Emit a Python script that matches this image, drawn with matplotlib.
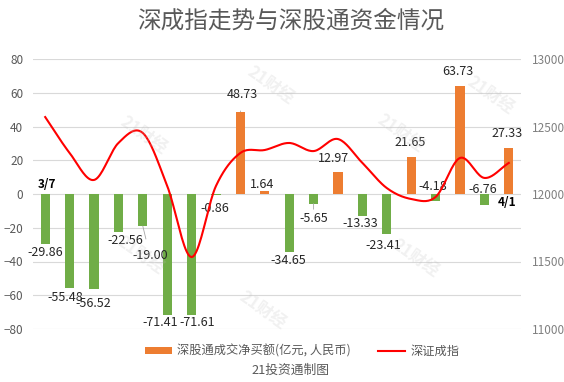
import numpy as np
import matplotlib
matplotlib.use("Agg")
import matplotlib.pyplot as plt
from matplotlib.patches import Patch
from matplotlib.lines import Line2D

plt.rcParams['font.family'] = ['Noto Sans CJK SC', 'DejaVu Sans']

# ---- data ----
flows = [-29.86, -55.48, -56.52, -22.56, -19.00, -71.41, -71.61, -0.86, 48.73, 1.64,
         -34.65, -5.65, 12.97, -13.33, -23.41, 21.65, -4.18, 63.73, -6.76, 27.33]
szci = [12570, 12304, 12104, 12378, 12452, 12060, 11533, 12060, 12304, 12326,
        12378, 12318, 12407, 12230, 12044, 11963, 11978, 12267, 12119, 12230]
first_date, last_date = "3/7", "4/1"
left_ticks = [-80, -60, -40, -20, 0, 20, 40, 60, 80]
right_ticks = [11000, 11500, 12000, 12500, 13000]

# label offsets in pixels (dx, dy up) and which ones get a leader line
LABEL_OFF = [(0, -8), (-4, -10), (-1, -14), (7, -8), (7, -29), (-7, -8), (6, -8), (-1, -13),
             (2, 17), (-3, 7), (-1, -8), (0, -15), (-5, 14), (-2, -7), (-4, -12), (-1, 14.5),
             (-3, 15), (-2, 14.5), (-2, 15.5), (-2, 14)]
LEADER = {4, 8, 11}

GREEN, ORANGE, RED, GRAY = "#70AD47", "#ED7D31", "#FF0000", "#595959"


def catmull_rom(x, y, n=20):
    # smooth curve through every point (same kind of smoothing as an office "smooth line")
    x = np.asarray(x, float); y = np.asarray(y, float)
    px = np.concatenate([[2 * x[0] - x[1]], x, [2 * x[-1] - x[-2]]])
    py = np.concatenate([[2 * y[0] - y[1]], y, [2 * y[-1] - y[-2]]])
    xs, ys = [], []
    t = np.linspace(0, 1, n, endpoint=False)
    for i in range(1, len(px) - 2):
        for p, out in ((px, xs), (py, ys)):
            p0, p1, p2, p3 = p[i - 1], p[i], p[i + 1], p[i + 2]
            out.append(0.5 * (2 * p1 + (-p0 + p2) * t + (2 * p0 - 5 * p1 + 4 * p2 - p3) * t ** 2
                              + (-p0 + 3 * p1 - 3 * p2 + p3) * t ** 3))
    xs.append([x[-1]]); ys.append([y[-1]])
    return np.concatenate(xs), np.concatenate(ys)


fig = plt.figure(figsize=(5.64, 3.82), dpi=100)
ax = fig.add_axes([33 / 564, 1 - 329 / 382, 488 / 564, 270 / 382])
ax2 = ax.twinx()

x = np.arange(len(flows))
cols = [ORANGE if v > 0 else GREEN for v in flows]
ax.bar(x, flows, width=0.38, color=cols, zorder=2)
ax.set_xlim(-0.5, len(flows) - 0.5)
ax.set_ylim(-80, 80)
ax.set_yticks(left_ticks)
ax.grid(axis='y', color="#D9D9D9", lw=0.8, zorder=0)
ax.set_axisbelow(True)
ax.set_xticks([])
for s in ax.spines.values():
    s.set_visible(False)
ax.tick_params(axis='y', length=0, pad=7, labelsize=8.5, labelcolor=GRAY)

sx, sy = catmull_rom(x, szci)
ax2.plot(sx, sy, color=RED, lw=1.5, zorder=3)
ax2.set_ylim(11000, 13000)
ax2.set_yticks(right_ticks)
for s in ax2.spines.values():
    s.set_visible(False)
ax2.tick_params(axis='y', length=0, pad=8, labelsize=8.5, labelcolor="#808080")

# value labels
for i, v in enumerate(flows):
    dx, dy = LABEL_OFF[i]
    kw = {}
    if i in LEADER:
        kw['arrowprops'] = dict(arrowstyle='-', color="#A6A6A6", lw=0.6, shrinkA=5, shrinkB=0)
    ax.annotate(f"{v:.2f}", xy=(i, v), xytext=(dx, dy), textcoords='offset pixels',
                ha='center', va='center', fontsize=9, color="#262626", zorder=5, **kw)

ax.annotate(first_date, xy=(0, 0), xytext=(2, 10), textcoords='offset pixels',
            ha='center', va='center', fontsize=8.5, fontweight='bold', color="black")
ax.annotate(last_date, xy=(len(flows) - 1, 0), xytext=(-2, -9), textcoords='offset pixels',
            ha='center', va='center', fontsize=8.5, fontweight='bold', color="black")

# faint watermarks
for wx, wy in [(143, 135), (270, 85), (400, 133), (490, 95), (140, 255), (262, 310), (415, 258)]:
    fig.text(wx / 564, 1 - wy / 382, "21财经", rotation=-35, ha='center', va='center',
             fontsize=12, fontweight='bold', color="#BFBFBF", alpha=0.22, zorder=0)

fig.text(291 / 564, 1 - 21 / 382, "深成指走势与深股通资金情况", ha='center', va='center',
         fontsize=17, color=GRAY)

handles = [Patch(facecolor=ORANGE, edgecolor='none'), Line2D([], [], color=RED, lw=1.5)]
fig.legend(handles, ["深股通成交净买额(亿元, 人民币)", "深证成指"], loc='center',
           bbox_to_anchor=(302 / 564, 1 - 351 / 382), ncol=2, frameon=False, fontsize=8.8,
           handlelength=2.2, handleheight=0.5, handletextpad=0.4, columnspacing=2.3,
           labelcolor=GRAY)
fig.text(290 / 564, 1 - 370 / 382, "21投资通制图", ha='center', va='center',
         fontsize=9.2, color=GRAY)

fig.savefig("out.png", dpi=100)
